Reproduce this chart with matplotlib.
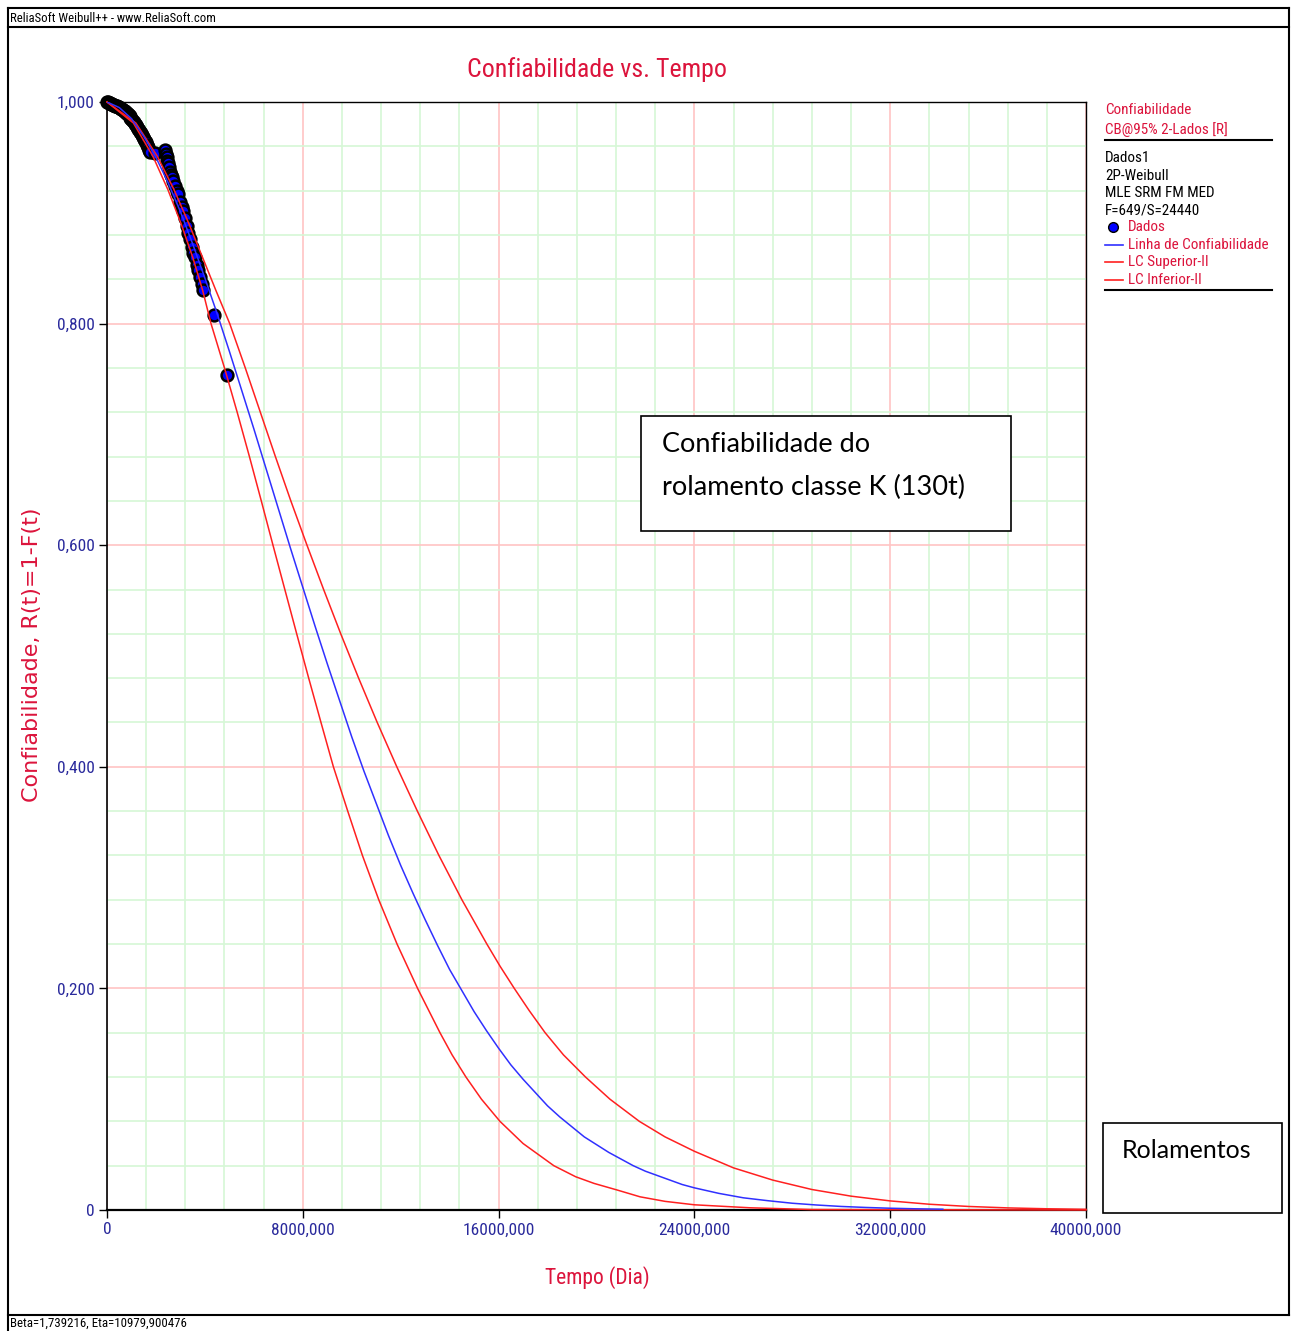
import numpy as np
import matplotlib
matplotlib.use('Agg')
import matplotlib.pyplot as plt
from matplotlib.lines import Line2D
from matplotlib.patches import Rectangle

# Values
beta_eta_text = 'Beta=1,739216, Eta=10979,900476'

x_ticks = [0, 8000, 16000, 24000, 32000, 40000]
x_tick_labels = ['0', '8000,000', '16000,000', '24000,000', '32000,000', '40000,000']
y_ticks = [0, 0.2, 0.4, 0.6, 0.8, 1.0]
y_tick_labels = ['0', '0,200', '0,400', '0,600', '0,800', '1,000']

# Linha de Confiabilidade (blue)
line_t = [0, 500, 1000, 1500, 2000, 2500, 3000, 3500, 4000, 4500, 5000, 5500, 6000,
          6500, 7000, 7500, 8000, 8500, 9000, 9500, 10000, 10500, 11000, 11500, 12000,
          12500, 13000, 13500, 14000, 14500, 15000, 15500, 16000, 16500, 17000, 17500,
          18000, 18500, 19000, 19500, 20000, 20500, 21000, 21500, 22000, 22500, 23000,
          23500, 24000, 25000, 26000, 27000, 28000, 29000, 30000, 31000, 32000, 33000,
          34150]
line_r = [1.000, 0.995, 0.985, 0.969, 0.950, 0.927, 0.901, 0.872, 0.841, 0.809, 0.775,
          0.740, 0.705, 0.669, 0.633, 0.597, 0.562, 0.527, 0.493, 0.460, 0.427, 0.396,
          0.367, 0.338, 0.311, 0.286, 0.262, 0.239, 0.217, 0.198, 0.179, 0.162, 0.146,
          0.131, 0.118, 0.106, 0.094, 0.084, 0.075, 0.066, 0.059, 0.052, 0.046, 0.040,
          0.035, 0.031, 0.027, 0.023, 0.020, 0.015, 0.011, 0.0084, 0.0061, 0.0045,
          0.0032, 0.0023, 0.0016, 0.0011, 0.0007]

# LC Superior-II (red, right)
upper_t = [0, 1180, 2056, 2736, 3350, 3900, 4448, 5014, 5650, 6265, 6880, 7511, 8171,
           8851, 9551, 10281, 11041, 11841, 12681, 13561, 14501, 15521, 16060, 16641,
           17250, 17901, 18650, 19551, 20550, 21751, 22800, 24000, 25600, 27200, 28800,
           30400, 32000, 33600, 35200, 36800, 38400, 40000]
upper_r = [1.000, 0.981, 0.951, 0.921, 0.890, 0.860, 0.830, 0.800, 0.760, 0.720, 0.680,
           0.640, 0.600, 0.560, 0.520, 0.480, 0.440, 0.400, 0.360, 0.320, 0.280, 0.240,
           0.220, 0.200, 0.180, 0.160, 0.140, 0.120, 0.100, 0.080, 0.066, 0.053, 0.038,
           0.027, 0.0185, 0.0125, 0.0082, 0.0052, 0.0032, 0.0019, 0.0011, 0.0006]

# LC Inferior-II (red, left)
lower_t = [0, 1080, 1876, 2486, 3030, 3500, 3908, 4250, 4800, 5319, 5819, 6304, 6782,
           7266, 7751, 8241, 8743, 9250, 9836, 10436, 11104, 11851, 12690, 13605, 14100,
           14666, 15300, 16056, 17000, 18256, 19150, 19900, 20850, 21780, 22800, 24000,
           26270, 28800, 40000]
lower_r = [1.000, 0.981, 0.951, 0.921, 0.890, 0.860, 0.830, 0.800, 0.760, 0.720, 0.680,
           0.640, 0.600, 0.560, 0.520, 0.480, 0.440, 0.400, 0.360, 0.320, 0.280, 0.240,
           0.200, 0.160, 0.140, 0.120, 0.100, 0.080, 0.060, 0.040, 0.030, 0.024, 0.018,
           0.0119, 0.0078, 0.0047, 0.0020, 0.0004, 0.0]

# Dados (failure points)
dados_t = [0, 40, 80, 120, 160, 200, 240, 280, 320, 360, 400, 440, 480, 520, 560, 600,
           640, 680, 720, 760, 800, 840, 880, 920, 960, 1000, 1040, 1080, 1120, 1160,
           1200, 1240, 1280, 1320, 1360, 1400, 1440, 1480, 1520, 1560, 1600, 1640, 1680,
           1720, 1760,
           1961,
           2370, 2400, 2440, 2470, 2506, 2540, 2580, 2620, 2650, 2710, 2780, 2850, 2914,
           2980, 3050, 3118, 3190, 3255, 3320, 3391, 3460, 3530, 3596, 3660, 3732, 3800,
           3868, 3936,
           4372, 4917]
dados_r = [1.000, 0.9998, 0.9995, 0.999, 0.9985, 0.998, 0.9975, 0.997, 0.9966, 0.9963,
           0.996, 0.9958, 0.9955, 0.995, 0.994, 0.9935, 0.993, 0.992, 0.9915, 0.9905,
           0.990, 0.989, 0.988, 0.987, 0.986, 0.985, 0.9835, 0.9825, 0.9815, 0.980,
           0.979, 0.9775, 0.976, 0.9745, 0.973, 0.972, 0.970, 0.9685, 0.967, 0.965,
           0.9635, 0.9615, 0.9595, 0.957, 0.955,
           0.9537,
           0.957, 0.953, 0.950, 0.947, 0.945, 0.941, 0.937, 0.934, 0.932, 0.929, 0.924,
           0.920, 0.917, 0.910, 0.905, 0.902, 0.895, 0.888, 0.882, 0.876, 0.869, 0.864,
           0.860, 0.853, 0.848, 0.842, 0.836, 0.830,
           0.8078, 0.7536]

W, H = 1291, 1331
crimson = '#DC143C'
navy = '#2A2A9C'
narrow = ['Roboto Condensed', 'Roboto', 'DejaVu Sans']


def fx(x):
    return x / W


def fy(y):
    return 1 - y / H


fig = plt.figure(figsize=(W / 100, H / 100), dpi=100)
fig.patch.set_facecolor('white')
ax = fig.add_axes([fx(107), fy(1210), 979 / W, 1108 / H])

ax.set_xlim(0, 40000)
ax.set_ylim(0, 1.0)

# grid
ax.set_xticks(x_ticks)
ax.set_xticklabels(x_tick_labels, family=narrow, fontsize=12.5, color=navy)
ax.set_yticks(y_ticks)
ax.set_yticklabels(y_tick_labels, family=narrow, fontsize=12.5, color=navy)
ax.set_xticks(np.arange(0, 40001, 1600), minor=True)
ax.set_yticks(np.arange(0, 1.0001, 0.04), minor=True)
ax.grid(which='minor', color='#d6f7d6', linewidth=1.2, zorder=0)
ax.grid(which='major', color='#ffc4c4', linewidth=1.2, zorder=0)
ax.set_axisbelow(True)
ax.tick_params(which='minor', length=0)
ax.tick_params(which='major', length=6, width=1, color='black', pad=3)

for s in ax.spines.values():
    s.set_color('black')
    s.set_linewidth(1)
ax.spines['bottom'].set_linewidth(1.6)
ax.spines['left'].set_linewidth(1.2)

ax.plot(dados_t, dados_r, 'o', ms=8.5, mfc='#0000ff', mec='black', mew=1.8,
        zorder=3, clip_on=False)
ax.plot(upper_t, upper_r, color='#ff2020', lw=1.1, zorder=4, clip_on=False)
ax.plot(lower_t, lower_r, color='#ff2020', lw=1.1, zorder=4, clip_on=False)
ax.plot(line_t, line_r, color='#3030ff', lw=1.1, zorder=5)

# titles
fig.text(fx(597), fy(70), 'Confiabilidade vs. Tempo', family=narrow, fontsize=18.6,
         color=crimson, ha='center', va='center')
fig.text(fx(597), fy(1278), 'Tempo (Dia)', family=narrow, fontsize=15.5,
         color=crimson, ha='center', va='center')
fig.text(fx(32), fy(655), 'Confiabilidade, R(t)=1-F(t)', fontsize=16,
         color=crimson, ha='center', va='center', rotation=90)

# header / footer
fig.text(fx(10), fy(18), 'ReliaSoft Weibull++ - www.ReliaSoft.com', family=narrow,
         fontsize=9.2, color='black', ha='left', va='center')
fig.text(fx(10), fy(1323), beta_eta_text, family=narrow,
         fontsize=9.3, color='black', ha='left', va='center')

# outer frame
frame_kw = dict(color='black', lw=1.5, transform=fig.transFigure)
fig.add_artist(Line2D([fx(8), fx(1289)], [fy(8), fy(8)], **frame_kw))
fig.add_artist(Line2D([fx(8), fx(1289)], [fy(27), fy(27)], **frame_kw))
fig.add_artist(Line2D([fx(8), fx(1289)], [fy(1315), fy(1315)], **frame_kw))
fig.add_artist(Line2D([fx(8), fx(8)], [fy(8), fy(1331)], **frame_kw))
fig.add_artist(Line2D([fx(1289), fx(1289)], [fy(8), fy(1315)], **frame_kw))

# side legend panel
leg_fs = 10.9
fig.text(fx(1105), fy(110), 'Confiabilidade', family=narrow, fontsize=leg_fs,
         color=crimson, va='center')
fig.text(fx(1105), fy(130), 'CB@95% 2-Lados [R]', family=narrow, fontsize=leg_fs,
         color=crimson, va='center')
fig.add_artist(Line2D([fx(1105), fx(1272)], [fy(140), fy(140)], color='black', lw=1.5,
                      transform=fig.transFigure))
info = ['Dados1', '2P-Weibull', 'MLE SRM FM MED', 'F=649/S=24440']
for i, txt in enumerate(info):
    fig.text(fx(1105), fy(158 + i * 17.5), txt, family=narrow, fontsize=leg_fs,
             color='black', va='center')
fig.add_artist(Line2D([fx(1113)], [fy(227)], marker='o', ms=7, mfc='#0000ff',
                      mec='black', mew=1, transform=fig.transFigure))
fig.text(fx(1128), fy(227), 'Dados', family=narrow, fontsize=leg_fs, color=crimson,
         va='center')
entries = [('Linha de Confiabilidade', '#3030ff', 245),
           ('LC Superior-II', '#ff2020', 262),
           ('LC Inferior-II', '#ff2020', 280)]
for txt, col, yy in entries:
    fig.add_artist(Line2D([fx(1105), fx(1123)], [fy(yy), fy(yy)], color=col, lw=1.2,
                          transform=fig.transFigure))
    fig.text(fx(1128), fy(yy), txt, family=narrow, fontsize=leg_fs, color=crimson,
             va='center')
fig.add_artist(Line2D([fx(1105), fx(1272)], [fy(290), fy(290)], color='black', lw=1.5,
                      transform=fig.transFigure))

# annotation boxes
box_font = ['Lato', 'DejaVu Sans']
fig.add_artist(Rectangle((fx(641), fy(531)), 370 / W, 115 / H, transform=fig.transFigure,
                         facecolor='white', edgecolor='black', lw=1.2, zorder=10))
fig.text(fx(662), fy(445), 'Confiabilidade do', family=box_font, fontsize=19.5,
         color='black', va='center', zorder=11)
fig.text(fx(662), fy(487), 'rolamento classe K (130t)', family=box_font, fontsize=19.5,
         color='black', va='center', zorder=11)
fig.add_artist(Rectangle((fx(1103), fy(1213)), 179 / W, 90 / H, transform=fig.transFigure,
                         facecolor='white', edgecolor='black', lw=1.2, zorder=10))
fig.text(fx(1187), fy(1150), 'Rolamentos', family=box_font, fontsize=18,
         color='black', ha='center', va='center', zorder=11)

fig.savefig('out.png', dpi=100)
